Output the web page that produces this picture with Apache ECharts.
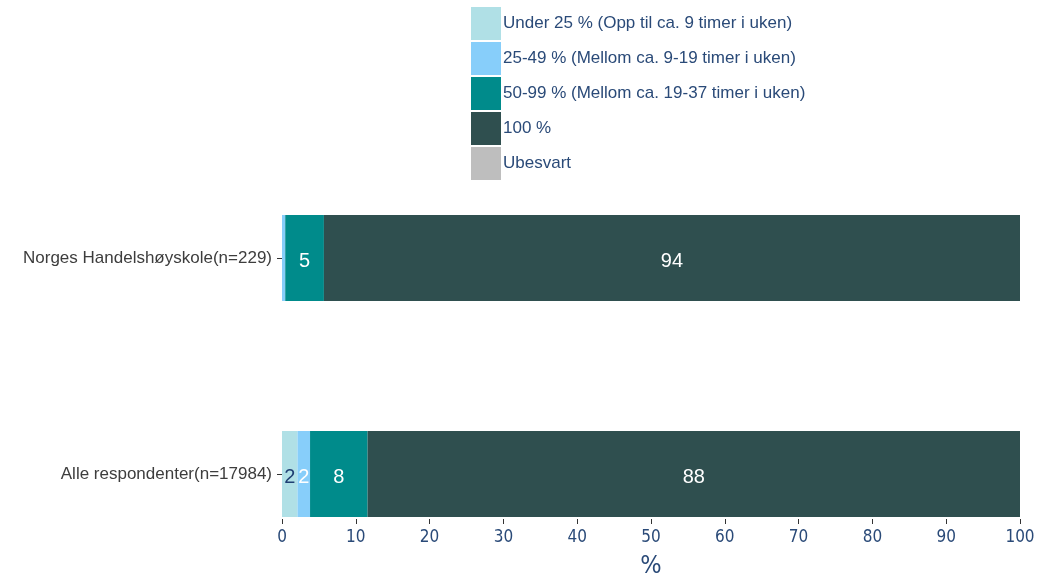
<!DOCTYPE html>
<html><head><meta charset="utf-8">
<script src="https://cdn.jsdelivr.net/npm/echarts@6/dist/echarts.min.js"></script>
<style>html,body{margin:0;padding:0;background:#fff}#c{width:1056px;height:580px}</style>
</head><body><div id="c"></div>
<script>
var categories = ['Norges Handelshøyskole(n=229)', 'Alle respondenter(n=17984)'];
var seriesNames = ['Under 25 % (Opp til ca. 9 timer i uken)', '25-49 % (Mellom ca. 9-19 timer i uken)', '50-99 % (Mellom ca. 19-37 timer i uken)', '100 %', 'Ubesvart'];
var under25 = [0, 2.1];
var p25to49 = [0.44, 1.7];
var p50to99 = [5.24, 7.8];
var p100 = [94.32, 88.4];
var ubesvart = [0, 0];
var xTicks = [0, 10, 20, 30, 40, 50, 60, 70, 80, 90, 100];

var colors = ['#b0e0e6', '#87cefa', '#008b8b', '#2f4f4f', '#bebebe'];
var labelColors = ['#1f3f73', '#ffffff', '#ffffff', '#ffffff', '#ffffff'];
var values = [under25, p25to49, p50to99, p100, ubesvart];
var navy = '#2a4a78';
var narrow = '"DejaVu Sans Condensed", "Liberation Sans", sans-serif';

var chart = echarts.init(document.getElementById('c'));
var series = seriesNames.map(function (n, i) {
  return {
    name: n, type: 'bar', stack: 'all', barWidth: 86,
    data: values[i],
    itemStyle: { color: colors[i] },
    label: {
      show: true, position: 'inside', color: labelColors[i],
      fontFamily: 'Liberation Sans', fontSize: 20, offset: [0, 3],
      formatter: function (p) { return p.value < 1 ? '' : String(Math.round(p.value)); }
    }
  };
});
chart.setOption({
  animation: false,
  color: colors,
  legend: {
    data: seriesNames, orient: 'vertical', left: 466, top: 2,
    itemWidth: 30, itemHeight: 33, itemGap: 2,
    icon: 'rect',
    textStyle: { color: navy, fontFamily: 'Liberation Sans', fontSize: 17, padding: [7, 0, 0, -3] }
  },
  grid: { left: 282, right: 36, top: 258, bottom: 105, containLabel: false },
  xAxis: {
    type: 'value', min: 0, max: 100, interval: 10, offset: 45,
    axisLine: { show: false },
    axisTick: { show: true, length: 5, lineStyle: { color: '#333' } },
    splitLine: { show: false },
    axisLabel: { color: navy, fontFamily: narrow, fontSize: 17, margin: 10,
      formatter: function (v) { return xTicks.indexOf(v) >= 0 ? String(v) : ''; } },
    name: '%', nameLocation: 'middle', nameGap: 35,
    nameTextStyle: { color: navy, fontFamily: narrow, fontSize: 25 }
  },
  yAxis: {
    type: 'category', data: categories, inverse: true, boundaryGap: false,
    axisLine: { show: false },
    axisTick: { show: true, length: 5, alignWithLabel: true, lineStyle: { color: '#333' } },
    axisLabel: { color: '#3d3d3d', fontFamily: 'Liberation Sans', fontSize: 17, margin: 10, padding: [6, 0, 0, 0] }
  },
  series: series
});
</script></body></html>
